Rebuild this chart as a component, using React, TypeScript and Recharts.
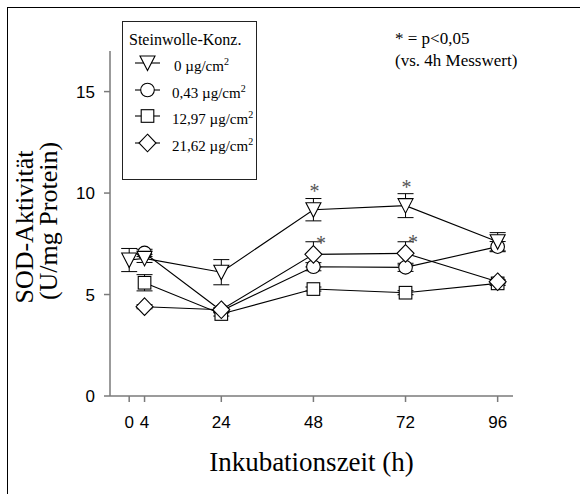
import React from "react";
import { LineChart, Line, XAxis, YAxis, ErrorBar, LabelList, Label } from "recharts";

// ---- data ----
const hours = [0, 4, 24, 48, 72, 96];
const xTicks = [0, 4, 24, 48, 72, 96];
const yTicks = [0, 5, 10, 15];

const conc0 = [6.7, 6.78, 6.1, 9.18, 9.38, 7.6];
const conc0Err = [0.57, 0.2, 0.62, 0.55, 0.59, 0.45];
const conc0Sig = [false, false, false, true, true, false];

const conc043 = [null, 7.05, 4.2, 6.37, 6.34, 7.36];
const conc043Err = [0, 0.18, 0.1, 0.2, 0.2, 0.25];
const conc043Sig = [false, false, false, false, false, false];

const conc1297 = [null, 5.58, 4.04, 5.27, 5.09, 5.55];
const conc1297Err = [0, 0.4, 0.1, 0.1, 0.1, 0.1];
const conc1297Sig = [false, false, false, false, false, false];

const conc2162 = [null, 4.4, 4.25, 6.98, 7.03, 5.63];
const conc2162Err = [0, 0.1, 0.1, 0.62, 0.57, 0.1];
const conc2162Sig = [false, false, false, true, true, false];

const legendTitle = "Steinwolle-Konz.";
const seriesLabels = ["0 µg/cm", "0,43 µg/cm", "12,97 µg/cm", "21,62 µg/cm"];
const noteLines = ["* = p<0,05", "(vs. 4h Messwert)"];
const xTitle = "Inkubationszeit (h)";
const yTitle1 = "SOD-Aktivität";
const yTitle2 = "(U/mg Protein)";

type Shape = "triangle" | "circle" | "square" | "diamond";

function build(vals: (number | null)[], errs: number[], sig: boolean[]) {
  const out: { h: number; v: number; e: number; s: number }[] = [];
  vals.forEach((v, i) => {
    if (v !== null) out.push({ h: hours[i], v, e: errs[i], s: sig[i] ? 1 : 0 });
  });
  return out;
}

const series: { key: string; shape: Shape; data: any[]; label: string; astDx: number; astDy: number }[] = [
  { key: "c043", shape: "circle", data: build(conc043, conc043Err, conc043Sig), label: seriesLabels[1], astDx: 0, astDy: -20 },
  { key: "c1297", shape: "square", data: build(conc1297, conc1297Err, conc1297Sig), label: seriesLabels[2], astDx: 0, astDy: -20 },
  { key: "c2162", shape: "diamond", data: build(conc2162, conc2162Err, conc2162Sig), label: seriesLabels[3], astDx: 7.5, astDy: -14.5 },
  { key: "c0", shape: "triangle", data: build(conc0, conc0Err, conc0Sig), label: seriesLabels[0], astDx: 1, astDy: -22 },
];

const SERIF = "'Liberation Serif', 'Times New Roman', serif";
const SANS = "'Liberation Sans', Arial, sans-serif";
const AXIS = "#7a7a7a";

function MarkerShape({ shape, cx, cy }: { shape: Shape; cx: number; cy: number }) {
  const common = { fill: "#fff", stroke: "#000", strokeWidth: 1.1 };
  if (shape === "triangle")
    return <polygon points={`${cx - 7.5},${cy - 7} ${cx + 7.5},${cy - 7} ${cx},${cy + 7.5}`} {...common} />;
  if (shape === "circle") return <circle cx={cx} cy={cy} r={6.8} {...common} />;
  if (shape === "square") return <rect x={cx - 6.3} y={cy - 6.3} width={12.6} height={12.6} {...common} />;
  return <polygon points={`${cx},${cy - 8.8} ${cx + 8.5},${cy} ${cx},${cy + 8.8} ${cx - 8.5},${cy}`} {...common} />;
}

const makeDot = (shape: Shape) => (props: any) => {
  const { cx, cy, index } = props;
  if (cx == null || cy == null) return <g key={`d${index}`} />;
  return (
    <g key={`d-${shape}-${index}`}>
      <MarkerShape shape={shape} cx={cx} cy={cy} />
    </g>
  );
};

const makeAsterisk = (dx: number, dy: number) => (props: any) => {
  const { x, y, value, index } = props;
  if (!value) return null;
  return (
    <text key={`a${index}`} x={x + dx} y={y + dy + 10} textAnchor="middle" fontFamily={SERIF} fontSize={20} fill="#555">
      *
    </text>
  );
};

function LegendBox() {
  const order = [3, 0, 1, 2]; // triangle, circle, square, diamond
  return (
    <div
      style={{
        position: "absolute",
        left: 122,
        top: 21,
        width: 133,
        height: 157,
        border: "1px solid #222",
        background: "#fff",
        fontFamily: SERIF,
        color: "#000",
      }}
    >
      <div style={{ position: "absolute", left: 6, top: 8, fontSize: 16, whiteSpace: "nowrap", lineHeight: "20px" }}>
        {legendTitle}
      </div>
      {order.map((si, row) => {
        const s = series[si];
        const cy = 41 + row * 26.7;
        return (
          <div key={s.key}>
            <svg style={{ position: "absolute", left: 0, top: cy - 12 }} width={50} height={24}>
              <line x1={12} x2={37} y1={12} y2={12} stroke="#000" strokeWidth={1.1} />
              <MarkerShape shape={s.shape} cx={24.5} cy={12} />
            </svg>
            <div
              style={{
                position: "absolute",
                left: si === 3 ? 51 : 49,
                top: cy - 11,
                fontSize: 15,
                lineHeight: "20px",
                whiteSpace: "nowrap",
              }}
            >
              {s.label}
              <sup style={{ fontSize: 10, verticalAlign: "6px" }}>2</sup>
            </div>
          </div>
        );
      })}
    </div>
  );
}

export default function App() {
  return (
    <div style={{ position: "absolute", left: 0, top: 0, width: 580, height: 494, background: "#fff", overflow: "hidden" }}>
      <div
        style={{
          position: "absolute",
          left: 7,
          top: 7,
          width: 600,
          height: 500,
          borderTop: "1px solid #000",
          borderLeft: "1px solid #000",
        }}
      />
      <div style={{ position: "absolute", left: 0, top: 0 }}>
        <LineChart width={580} height={494} margin={{ top: 51, right: 67, bottom: 0, left: 0 }}>
          <XAxis
            type="number"
            dataKey="h"
            domain={[-5, 100]}
            ticks={xTicks}
            allowDataOverflow
            height={98}
            stroke={AXIS}
            strokeWidth={1.5}
            tickSize={6}
            tickMargin={14}
            tick={{ fill: "#000", fontFamily: SANS, fontSize: 17 }}
            tickLine={{ stroke: AXIS }}
          >
            <Label
              content={(p: any) => {
                const vb = p.viewBox;
                return (
                  <text x={vb.x + vb.width / 2} y={471} textAnchor="middle" fontFamily={SERIF} fontSize={27} fill="#000">
                    {xTitle}
                  </text>
                );
              }}
            />
          </XAxis>
          <YAxis
            type="number"
            domain={[0, 17]}
            ticks={yTicks}
            allowDataOverflow
            width={110}
            stroke={AXIS}
            strokeWidth={1.5}
            tickSize={6}
            tickMargin={9}
            tick={{ fill: "#000", fontFamily: SANS, fontSize: 17 }}
            tickLine={{ stroke: AXIS }}
          >
            <Label
              content={() => (
                <g>
                  <text
                    x={33}
                    y={227}
                    transform="rotate(-90, 33, 227)"
                    textAnchor="middle"
                    fontFamily={SERIF}
                    fontSize={26}
                    fill="#000"
                  >
                    {yTitle1}
                  </text>
                  <text
                    x={57}
                    y={221}
                    transform="rotate(-90, 57, 221)"
                    textAnchor="middle"
                    fontFamily={SERIF}
                    fontSize={26}
                    fill="#000"
                  >
                    {yTitle2}
                  </text>
                </g>
              )}
            />
          </YAxis>
          {series.map((s) => (
            <Line
              key={s.key}
              data={s.data}
              dataKey="v"
              stroke="#000"
              strokeWidth={1.1}
              dot={makeDot(s.shape)}
              activeDot={false}
              isAnimationActive={false}
              legendType="none"
            >
              <ErrorBar dataKey="e" width={8} stroke="#000" strokeWidth={1} direction="y" />
              <LabelList dataKey="s" content={makeAsterisk(s.astDx, s.astDy)} />
            </Line>
          ))}
        </LineChart>
      </div>
      <LegendBox />
      <div style={{ position: "absolute", left: 395, top: 28, fontFamily: SERIF, fontSize: 17, lineHeight: "22px", color: "#000", whiteSpace: "nowrap" }}>
        <div>{noteLines[0]}</div>
        <div>{noteLines[1]}</div>
      </div>
    </div>
  );
}
